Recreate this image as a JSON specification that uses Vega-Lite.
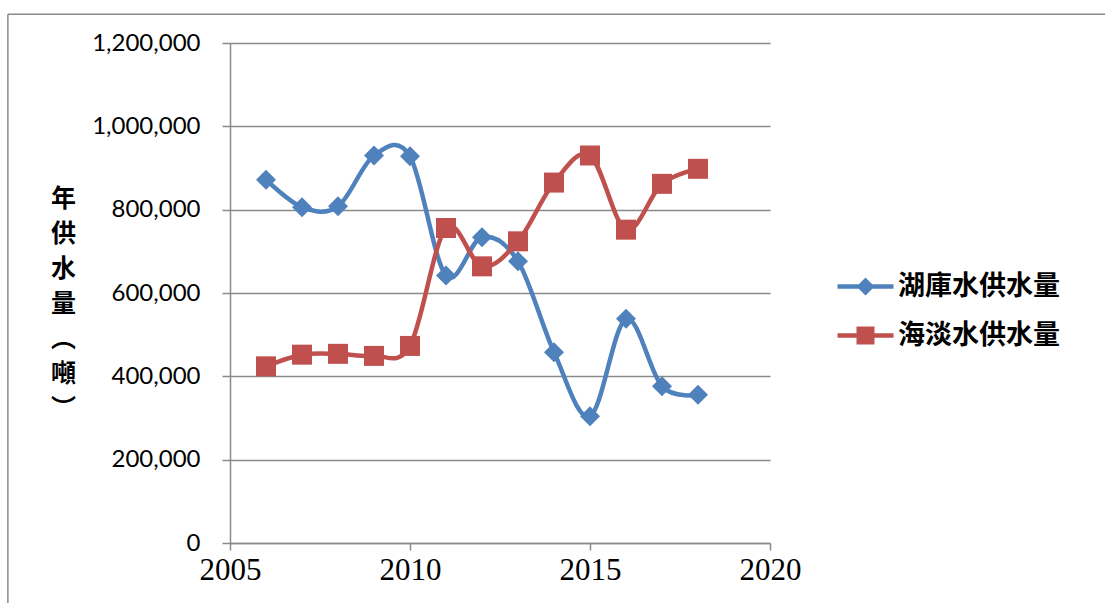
{
  "$schema": "https://vega.github.io/schema/vega-lite/v6.json",
  "width": 540,
  "height": 500,
  "autosize": {"type": "none"},
  "padding": {"left": 230, "top": 43, "right": 335, "bottom": 60},
  "background": "white",
  "config": {
    "view": {"stroke": null},
    "axis": {"domainColor": "#8a8a8a", "tickColor": "#8a8a8a", "domainWidth": 1.5, "tickWidth": 1.5, "labelColor": "#000000"}
  },
  "data": {
    "values": [
      {"year": 2006, "series": "湖庫水供水量", "value": 872000},
      {"year": 2007, "series": "湖庫水供水量", "value": 806000},
      {"year": 2008, "series": "湖庫水供水量", "value": 808000},
      {"year": 2009, "series": "湖庫水供水量", "value": 930000},
      {"year": 2010, "series": "湖庫水供水量", "value": 928000},
      {"year": 2011, "series": "湖庫水供水量", "value": 642000},
      {"year": 2012, "series": "湖庫水供水量", "value": 734000},
      {"year": 2013, "series": "湖庫水供水量", "value": 676000},
      {"year": 2014, "series": "湖庫水供水量", "value": 458000},
      {"year": 2015, "series": "湖庫水供水量", "value": 304000},
      {"year": 2016, "series": "湖庫水供水量", "value": 538000},
      {"year": 2017, "series": "湖庫水供水量", "value": 376000},
      {"year": 2018, "series": "湖庫水供水量", "value": 356000},
      {"year": 2006, "series": "海淡水供水量", "value": 424000},
      {"year": 2007, "series": "海淡水供水量", "value": 452000},
      {"year": 2008, "series": "海淡水供水量", "value": 454000},
      {"year": 2009, "series": "海淡水供水量", "value": 449000},
      {"year": 2010, "series": "海淡水供水量", "value": 473000},
      {"year": 2011, "series": "海淡水供水量", "value": 756000},
      {"year": 2012, "series": "海淡水供水量", "value": 664000},
      {"year": 2013, "series": "海淡水供水量", "value": 724000},
      {"year": 2014, "series": "海淡水供水量", "value": 865000},
      {"year": 2015, "series": "海淡水供水量", "value": 930000},
      {"year": 2016, "series": "海淡水供水量", "value": 752000},
      {"year": 2017, "series": "海淡水供水量", "value": 862000},
      {"year": 2018, "series": "海淡水供水量", "value": 898000}
    ]
  },
  "layer": [
    {
      "data": {"values": [{}]},
      "mark": {"type": "rule", "color": "#8a8a8a", "strokeWidth": 1.5, "clip": false},
      "encoding": {
        "x": {"datum": 1998.83, "type": "quantitative"},
        "y": {"datum": 1268800, "type": "quantitative"},
        "y2": {"datum": -150000}
      }
    },
    {
      "data": {"values": [{}]},
      "mark": {"type": "rule", "color": "#8a8a8a", "strokeWidth": 1.5, "clip": false},
      "encoding": {
        "x": {"datum": 1998.83, "type": "quantitative"},
        "x2": {"datum": 2030},
        "y": {"datum": 1268800, "type": "quantitative"}
      }
    },
    {
      "encoding": {
        "x": {
          "field": "year",
          "type": "quantitative",
          "scale": {"domain": [2005, 2020], "nice": false, "zero": false},
          "axis": {
            "values": [2005, 2010, 2015, 2020],
            "format": "d",
            "grid": false,
            "title": null,
            "tickSize": 7,
            "labelPadding": 5,
            "labelFont": "Liberation Serif",
            "labelFontSize": 31,
            "labelFlush": false,
            "labelOverlap": false
          }
        },
        "y": {
          "field": "value",
          "type": "quantitative",
          "scale": {"domain": [0, 1200000], "nice": false},
          "axis": {
            "values": [0, 200000, 400000, 600000, 800000, 1000000, 1200000],
            "format": ",.0f",
            "grid": true,
            "gridColor": "#8a8a8a",
            "gridWidth": 1.5,
            "tickSize": 8,
            "labelPadding": 22,
            "labelFont": "Lato",
            "labelFontSize": 24,
            "labelFlush": false,
            "title": ["年", "供", "水", "量", "︵", "噸", "︶"],
            "titleAngle": 0,
            "titleX": -167,
            "titleY": 155,
            "titleAlign": "center",
            "titleBaseline": "middle",
            "titleLineHeight": 35,
            "titleFont": "Noto Sans CJK TC",
            "titleFontSize": 25,
            "titleFontWeight": "bold",
            "titleColor": "#000000"
          }
        },
        "color": {
          "field": "series",
          "type": "nominal",
          "sort": ["湖庫水供水量", "海淡水供水量"],
          "scale": {"domain": ["湖庫水供水量", "海淡水供水量"], "range": ["#4F81BD", "#C0504D"]},
          "legend": {
            "orient": "none",
            "legendX": 622,
            "legendY": 230,
            "title": null,
            "padding": 0,
            "symbolSize": 400,
            "symbolOpacity": 1,
            "labelFont": "Noto Sans CJK TC",
            "labelFontSize": 27,
            "labelFontWeight": "bold",
            "labelColor": "#000000",
            "labelOffset": 19,
            "labelLimit": 400,
            "rowPadding": 21,
            "encode": {
              "symbols": {
                "update": {
                  "shape": {"signal": "datum.value === '湖庫水供水量' ? 'M-2.8,-0.22H2.8V0.22H-2.8Z M0,-0.9L0.9,0L0,0.9L-0.9,0Z' : 'M-2.8,-0.22H2.8V0.22H-2.8Z M-0.9,-0.9H0.9V0.9H-0.9Z'"},
                  "fill": {"signal": "scale('color', datum.value)"},
                  "stroke": {"value": "transparent"},
                  "strokeWidth": {"value": 0},
                  "opacity": {"value": 1}
                }
              }
            }
          }
        }
      },
      "layer": [
        {
          "mark": {"type": "line", "interpolate": "cardinal", "strokeWidth": 4.5}
        },
        {
          "transform": [{"filter": "datum.series === '湖庫水供水量'"}],
          "mark": {"type": "point", "filled": true, "opacity": 1, "size": 400, "strokeWidth": 0, "shape": "diamond"}
        },
        {
          "transform": [{"filter": "datum.series === '海淡水供水量'"}],
          "mark": {"type": "point", "filled": true, "opacity": 1, "size": 400, "strokeWidth": 0, "shape": "square"}
        }
      ]
    }
  ]
}
